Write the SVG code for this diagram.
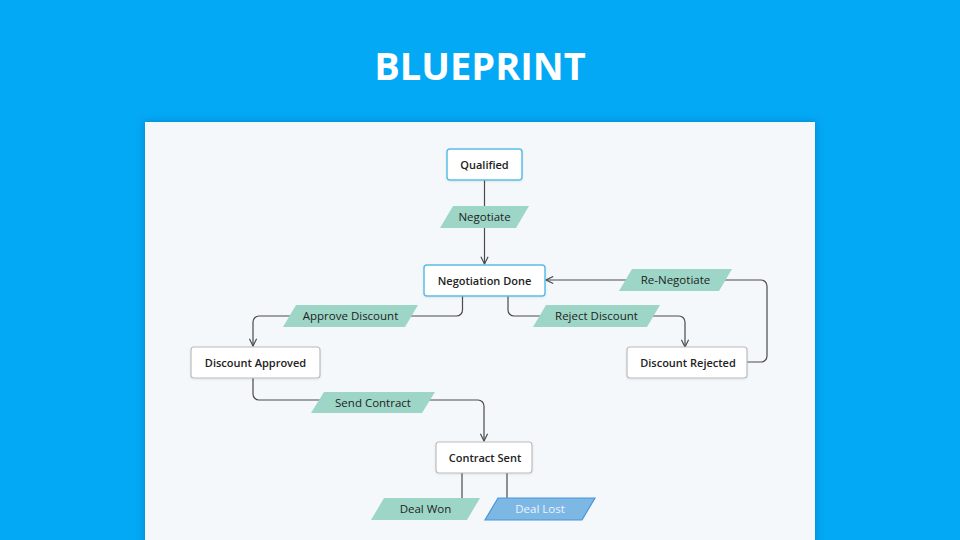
<svg xmlns="http://www.w3.org/2000/svg" width="960" height="540" viewBox="0 0 960 540">
<defs>
<filter id="panelShadow" x="-10%" y="-10%" width="120%" height="120%">
<feDropShadow dx="0" dy="0" stdDeviation="4" flood-color="#01579B" flood-opacity="0.45"/>
</filter>
<filter id="nodeShadow" x="-10%" y="-20%" width="120%" height="150%">
<feDropShadow dx="0" dy="1" stdDeviation="1" flood-color="#000" flood-opacity="0.08"/>
</filter>
<marker id="arrow" viewBox="0 0 10 10" refX="9" refY="5" markerWidth="9" markerHeight="9" markerUnits="userSpaceOnUse" orient="auto">
<path d="M1,1 L9,5 L1,9" fill="none" stroke="#4a4a4a" stroke-width="1.3"/>
</marker>
<style>
.node rect{fill:#fff;stroke-width:1.5;}
.blue rect{stroke:#5BBDE8;}
.gray rect{stroke:#B9BCC0;stroke-width:1.2;}
.ntext{font-family:"Open Sans","Liberation Sans",sans-serif;font-size:11px;font-weight:600;fill:#222;text-anchor:middle;}
.lab polygon{fill:#9DD6C6;}
.ltext{font-family:"Open Sans","Liberation Sans",sans-serif;font-size:11.5px;fill:#222;text-anchor:middle;}
.edge{fill:none;stroke:#4a4a4a;stroke-width:1.2;}
</style>
</defs>
<rect x="0" y="0" width="960" height="540" fill="#03A9F4"/>
<text x="480" y="80" font-family="Open Sans, Liberation Sans, sans-serif" font-size="38" font-weight="700" fill="#fff" text-anchor="middle">BLUEPRINT</text>
<rect x="145" y="122" width="670" height="430" fill="#F5F8FB" filter="url(#panelShadow)"/>

<g id="connectors">
<path class="edge" d="M484.5,180 V264" marker-end="url(#arrow)"/>
<path class="edge" d="M462.5,296 V310 a6,6 0 0 1 -6,6 H259 a6,6 0 0 0 -6,6 V346" marker-end="url(#arrow)"/>
<path class="edge" d="M508,296 V310 a6,6 0 0 0 6,6 H679 a6,6 0 0 1 6,6 V347" marker-end="url(#arrow)"/>
<path class="edge" d="M747,362 H761 a6,6 0 0 0 6,-6 V286 a6,6 0 0 0 -6,-6 H546" marker-end="url(#arrow)"/>
<path class="edge" d="M253,378 V394 a6,6 0 0 0 6,6 H478 a6,6 0 0 1 6,6 V441" marker-end="url(#arrow)"/>
<path class="edge" d="M462,473 V498"/>
<path class="edge" d="M507,473 V498"/>
</g>

<g id="node-qualified" class="node blue"><rect x="447" y="149" width="75" height="31" rx="3" filter="url(#nodeShadow)"/><text class="ntext" x="484.5" y="168.5">Qualified</text></g>
<g id="node-negotiation-done" class="node blue"><rect x="424" y="265" width="121" height="31" rx="3" filter="url(#nodeShadow)"/><text class="ntext" x="484.5" y="284.5">Negotiation Done</text></g>
<g id="node-discount-approved" class="node gray"><rect x="191" y="347" width="129" height="31" rx="3" filter="url(#nodeShadow)"/><text class="ntext" x="255.5" y="366.5">Discount Approved</text></g>
<g id="node-discount-rejected" class="node gray"><rect x="627" y="347" width="120" height="31" rx="3" filter="url(#nodeShadow)"/><text class="ntext" x="688" y="366.5">Discount Rejected</text></g>
<g id="node-contract-sent" class="node gray"><rect x="436" y="442" width="96" height="31" rx="3" filter="url(#nodeShadow)"/><text class="ntext" x="485" y="461.5">Contract Sent</text></g>

<g id="label-negotiate" class="lab"><polygon points="453,206 529,206 516,228 440,228"/><text class="ltext" x="484.5" y="221">Negotiate</text></g>
<g id="label-approve-discount" class="lab"><polygon points="296,305 418,305 405,327 283,327"/><text class="ltext" x="350.5" y="320">Approve Discount</text></g>
<g id="label-reject-discount" class="lab"><polygon points="546,305 660,305 647,327 533,327"/><text class="ltext" x="596.5" y="320">Reject Discount</text></g>
<g id="label-re-negotiate" class="lab"><polygon points="632,269 732,269 719,291 619,291"/><text class="ltext" x="675.5" y="284">Re-Negotiate</text></g>
<g id="label-send-contract" class="lab"><polygon points="324,392 435,392 422,413 311,413"/><text class="ltext" x="373" y="406.5">Send Contract</text></g>
<g id="label-deal-won" class="lab"><polygon points="384,498 480,498 467,520 371,520"/><text class="ltext" x="425.5" y="513">Deal Won</text></g>
<g id="label-deal-lost"><polygon points="498,498 595,498 582,520 485,520" fill="#7DB7E4" stroke="#4A95D9" stroke-width="1.2"/><text class="ltext" x="540" y="513" style="fill:#EAF4FC">Deal Lost</text></g>
</svg>
